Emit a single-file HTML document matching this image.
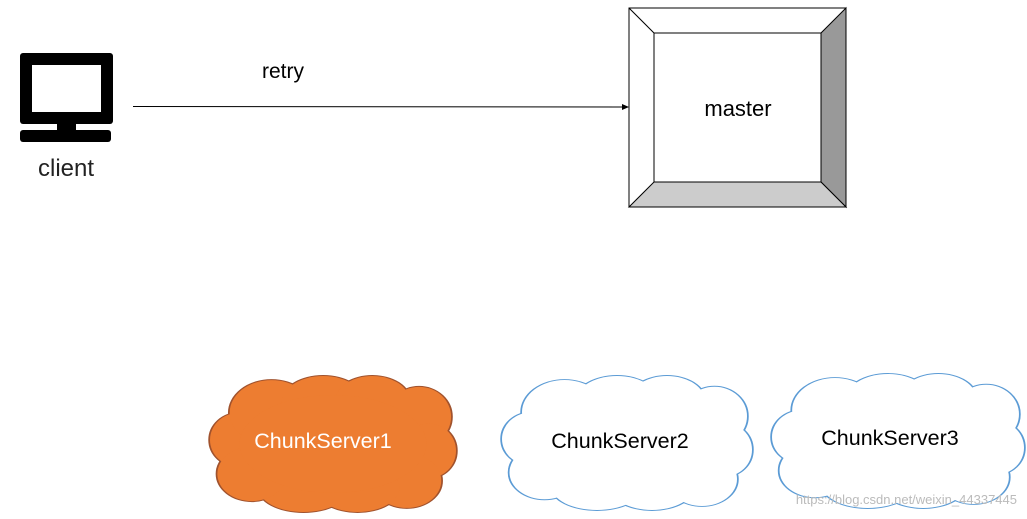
<!DOCTYPE html>
<html><head><meta charset="utf-8"><style>
html,body{margin:0;padding:0;background:#fff;width:1027px;height:519px;overflow:hidden}
svg{display:block}
text{font-family:"Liberation Sans",sans-serif}
</style></head><body>
<svg width="1027" height="519" viewBox="0 0 1027 519">
<defs>
<g id="cl">
<ellipse cx="12" cy="47" rx="12" ry="20"/>
<ellipse cx="25" cy="27" rx="17" ry="24"/>
<ellipse cx="46" cy="20" rx="17" ry="20"/>
<ellipse cx="66" cy="18" rx="15" ry="18"/>
<ellipse cx="85" cy="30" rx="13" ry="22"/>
<ellipse cx="89" cy="55" rx="11" ry="20"/>
<ellipse cx="80" cy="77" rx="14" ry="20"/>
<ellipse cx="60" cy="82" rx="17" ry="18"/>
<ellipse cx="38" cy="83" rx="18" ry="17"/>
<ellipse cx="17" cy="72" rx="14" ry="20"/>
<ellipse cx="50" cy="50" rx="38" ry="36"/>
</g>
</defs>
<!-- client -->
<rect x="20" y="53" width="93" height="71" rx="3" fill="#000"/>
<rect x="32" y="65" width="69" height="47" fill="#fff"/>
<rect x="57" y="122" width="19" height="12" fill="#000"/>
<rect x="20" y="130" width="91" height="12" rx="3" fill="#000"/>
<text x="66" y="176" font-size="24" text-anchor="middle" fill="#222">client</text>
<!-- arrow -->
<line x1="133" y1="106.5" x2="624" y2="107" stroke="#000" stroke-width="1"/>
<polygon points="629,107 622,104 622,110" fill="#000"/>
<text x="283" y="78" font-size="21" text-anchor="middle">retry</text>
<!-- master -->
<rect x="629" y="8" width="217" height="199" fill="#fff" stroke="#000"/>
<polygon points="821,33 846,8 846,207 821,182" fill="#999" stroke="#000"/>
<polygon points="654,182 821,182 846,207 629,207" fill="#ccc" stroke="#000"/>
<line x1="629" y1="8" x2="654" y2="33" stroke="#000"/>
<rect x="654" y="33" width="167" height="149" fill="#fff" stroke="#000"/>
<text x="738" y="116" font-size="22" text-anchor="middle">master</text>
<!-- clouds -->
<g transform="translate(210,376) scale(2.46,1.36)">
<use href="#cl" fill="none" stroke="#a0522d" stroke-width="1.4" vector-effect="non-scaling-stroke"/>
<use href="#cl" fill="#ed7d31"/>
</g>
<text x="323" y="448" font-size="21.5" text-anchor="middle" fill="#fff">ChunkServer1</text>
<g transform="translate(502,376) scale(2.5,1.34)">
<use href="#cl" fill="none" stroke="#5b9bd5" stroke-width="1.4"/>
<use href="#cl" fill="#fff"/>
</g>
<text x="620" y="448" font-size="21.5" text-anchor="middle">ChunkServer2</text>
<g transform="translate(772,374) scale(2.52,1.34)">
<use href="#cl" fill="none" stroke="#5b9bd5" stroke-width="1.4"/>
<use href="#cl" fill="#fff"/>
</g>
<text x="890" y="445" font-size="21.5" text-anchor="middle">ChunkServer3</text>
<text x="1017" y="504" font-size="13" text-anchor="end" fill="#bbb">https://blog.csdn.net/weixin_44337445</text>
</svg>
</body></html>
